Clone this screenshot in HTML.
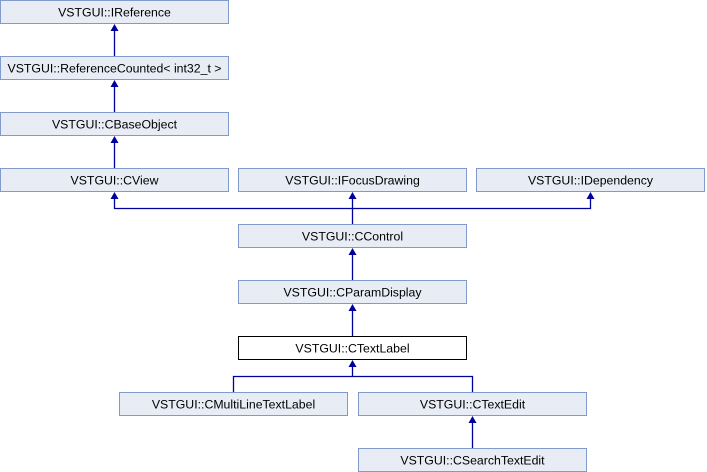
<!DOCTYPE html>
<html><head><style>
html,body{margin:0;padding:0;background:#fff;}
svg{display:block;}
text{font-family:"Liberation Sans",sans-serif;font-size:12.3px;fill:#000;text-anchor:middle;}
.b{fill:#e8ecf5;stroke:#7f9acb;stroke-width:1;}
.w{fill:#fff;stroke:#000;stroke-width:1;}
.l{stroke:#00009c;stroke-width:1.3;fill:none;}
.a{fill:#00009c;}
</style></head><body>
<svg width="707" height="472" viewBox="0 0 707 472">
<g>
<rect class="b" x="0.5" y="0.5" width="228" height="23"/><text x="114.5" y="16.5">VSTGUI::IReference</text>
<rect class="b" x="0.5" y="56.5" width="228" height="23"/><text x="114.5" y="72.5">VSTGUI::ReferenceCounted&lt; int32_t &gt;</text>
<rect class="b" x="0.5" y="112.5" width="228" height="23"/><text x="114.5" y="128.5">VSTGUI::CBaseObject</text>
<rect class="b" x="0.5" y="168.5" width="228" height="23"/><text x="114.5" y="184.5">VSTGUI::CView</text>
<rect class="b" x="238.5" y="168.5" width="228" height="23"/><text x="352.5" y="184.5">VSTGUI::IFocusDrawing</text>
<rect class="b" x="476.5" y="168.5" width="228" height="23"/><text x="590.5" y="184.5">VSTGUI::IDependency</text>
<rect class="b" x="238.5" y="224.5" width="228" height="23"/><text x="352.5" y="240.5">VSTGUI::CControl</text>
<rect class="b" x="238.5" y="280.5" width="228" height="23"/><text x="352.5" y="296.5">VSTGUI::CParamDisplay</text>
<rect class="w" x="238.5" y="336.5" width="228" height="23"/><text x="352.5" y="352.5">VSTGUI::CTextLabel</text>
<rect class="b" x="119.5" y="392.5" width="228" height="23"/><text x="233.5" y="408.5">VSTGUI::CMultiLineTextLabel</text>
<rect class="b" x="358.5" y="392.5" width="228" height="23"/><text x="472.5" y="408.5">VSTGUI::CTextEdit</text>
<rect class="b" x="358.5" y="448.5" width="228" height="23"/><text x="472.5" y="464.5">VSTGUI::CSearchTextEdit</text>
</g>
<g>
<path class="l" d="M114.5 30V56 M114.5 86V112 M114.5 142V168"/>
<path class="l" d="M114.5 198V208.5H590.5V198 M352.5 198V224"/>
<path class="l" d="M352.5 254V280 M352.5 310V336"/>
<path class="l" d="M352.5 366V376.5 M233.5 392V376.5H472.5V392 M472.5 422V448"/>
<path class="a" d="M110.5 31L114.5 24L118.5 31Z M110.5 87L114.5 80L118.5 87Z M110.5 143L114.5 136L118.5 143Z
M110.5 199L114.5 192L118.5 199Z M348.5 199L352.5 192L356.5 199Z M586.5 199L590.5 192L594.5 199Z
M348.5 255L352.5 248L356.5 255Z M348.5 311L352.5 304L356.5 311Z M348.5 367L352.5 360L356.5 367Z M468.5 423L472.5 416L476.5 423Z"/>
</g>
</svg>
</body></html>
